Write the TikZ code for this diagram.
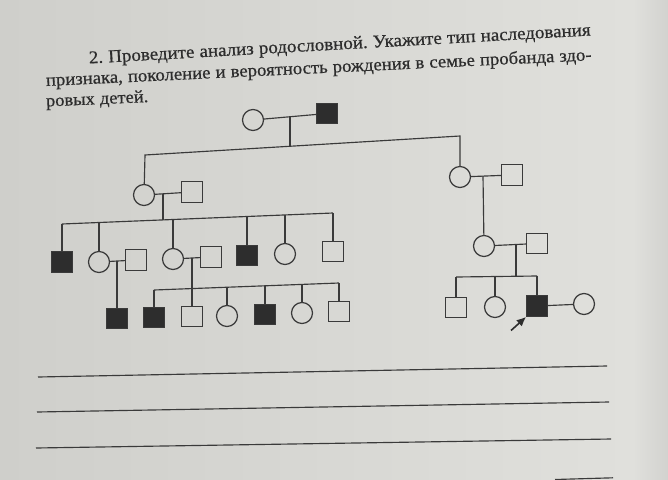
\documentclass[tikz,border=0pt]{standalone}
\usepackage{fontspec}
\setmainfont{Liberation Serif}
\newfontfamily\taskfont{Liberation Serif}[FakeBold=0.6]
\usetikzlibrary{arrows.meta}
\definecolor{paperL}{RGB}{207,207,203}
\definecolor{paperR}{RGB}{224,224,220}
\definecolor{paperE}{RGB}{210,210,207}
\definecolor{ink}{RGB}{58,58,58}
\definecolor{textink}{RGB}{45,45,45}
\definecolor{fillk}{RGB}{45,45,45}
\frenchspacing
\newlength\lenA \newlength\lenB \newlength\lenC
\begin{document}
\settowidth\lenA{\taskfont 2. Проведите анализ родословной. Укажите тип наследования}
\settowidth\lenB{\taskfont признака, поколение и вероятность рождения в семье пробанда здо-}
\settowidth\lenC{\taskfont ровых детей.}
\begin{tikzpicture}[x=1pt,y=-1pt,
  male/.style={draw=ink, line width=1.25pt, minimum size=20.5pt, inner sep=0pt, rectangle},
  female/.style={draw=ink, line width=1.25pt, minimum size=21pt, inner sep=0pt, circle},
  aff/.style={fill=fillk},
  rel/.style={draw=ink, line width=1.15pt},
  rule/.style={draw=ink, line width=1.15pt},
  wordbox/.style={anchor=base west, inner sep=0pt, text=textink}
]
\pgfmathsetmacro\fA{500/\lenA}
\pgfmathsetmacro\fAy{0.95*\fA}
\pgfmathsetmacro\fB{543/\lenB}
\pgfmathsetmacro\fBy{0.95*\fB}
\pgfmathsetmacro\fC{102/\lenC}
\pgfmathsetmacro\fCy{0.95*\fC}
% paper
\shade[left color=paperL, right color=paperR] (0,0) rectangle (633,479);
\shade[left color=paperR, right color=paperE] (633,0) rectangle (668,479);
\useasboundingbox (0,0) rectangle (668,479);

% task text, line 1 (words follow the slanted baseline of the photo)
\coordinate (cur) at (89,63.5);
\foreach \w in {2.,Проведите,анализ,родословной.,Укажите,тип,наследования} {
  \node[wordbox, rotate=3.2] (wd) at (cur) {\scalebox{\fA}[\fAy]{\taskfont\w\ }};
  \coordinate (cur) at (wd.base east);
}
% line 2
\coordinate (cur) at (46,86);
\foreach \w in {{признака,},поколение,и,вероятность,рождения,в,семье,пробанда,здо-} {
  \node[wordbox, rotate=2.7] (wd) at (cur) {\scalebox{\fB}[\fBy]{\taskfont\w\ }};
  \coordinate (cur) at (wd.base east);
}
% line 3
\coordinate (cur) at (46,106.5);
\foreach \w in {ровых,детей.} {
  \node[wordbox, rotate=2.5] (wd) at (cur) {\scalebox{\fC}[\fCy]{\taskfont\w\ }};
  \coordinate (cur) at (wd.base east);
}

% generation I
\node[female] (I1) at (253,120) {};
\node[male,aff] (I2) at (327,113.5) {};
\draw[rel] (I1) -- (I2);
\coordinate (m1) at (290,116.8);
\coordinate (s2L) at (145,155);
\coordinate (s2m) at (290,146.3);
\coordinate (s2R) at (460,136);
\draw[rel] (m1) -- (s2m);

% generation II
\node[female] (II1) at (144,195) {};
\node[male] (II2) at (192,192) {};
\node[female] (II3) at (460,177) {};
\node[male] (II4) at (512,175) {};
\draw[rel] (II1) -- (s2L) -- (s2R) -- (II3);
\draw[rel] (II1) -- (II2);
\draw[rel] (II3) -- (II4);

% generation III (left family)
\coordinate (m2) at (163,193.8);
\coordinate (s3L) at (62,224);
\coordinate (s3a) at (99,222.5);
\coordinate (s3m) at (163,219.9);
\coordinate (s3b) at (173,219.5);
\coordinate (s3c) at (247,216.5);
\coordinate (s3d) at (285,214.9);
\coordinate (s3R) at (333,213);
\draw[rel] (m2) -- (s3m);
\draw[rel] (s3L) -- (s3R);
\node[male,aff] (III1) at (62,262) {};
\node[female] (III2) at (99,262) {};
\node[male] (III3) at (136,260) {};
\node[female] (III4) at (173,259) {};
\node[male] (III5) at (211,257) {};
\node[male,aff] (III6) at (247,255.5) {};
\node[female] (III7) at (285,254) {};
\node[male] (III8) at (333,251.5) {};
\draw[rel] (s3L) -- (III1);
\draw[rel] (s3a) -- (III2);
\draw[rel] (s3b) -- (III4);
\draw[rel] (s3c) -- (III6);
\draw[rel] (s3d) -- (III7);
\draw[rel] (s3R) -- (III8);
\draw[rel] (III2) -- (III3);
\draw[rel] (III4) -- (III5);

% generation IV (left)
\coordinate (m3a) at (117,261.2);
\coordinate (m3b) at (192,258.1);
\node[male,aff] (IV1) at (117,318.5) {};
\draw[rel] (m3a) -- (IV1);
\coordinate (s4L) at (154,290);
\coordinate (s4b) at (227,287.3);
\coordinate (s4c) at (265,285.8);
\coordinate (s4d) at (302,284.4);
\coordinate (s4R) at (339,283);
\draw[rel] (s4L) -- (s4R);
\node[male,aff] (IV2) at (154,317.5) {};
\node[male] (IV3) at (192,316.5) {};
\node[female] (IV4) at (227,316) {};
\node[male,aff] (IV5) at (265,314.5) {};
\node[female] (IV6) at (302,313) {};
\node[male] (IV7) at (339,311.5) {};
\draw[rel] (m3b) -- (IV3);
\draw[rel] (s4L) -- (IV2);
\draw[rel] (s4b) -- (IV4);
\draw[rel] (s4c) -- (IV5);
\draw[rel] (s4d) -- (IV6);
\draw[rel] (s4R) -- (IV7);

% right branch
\coordinate (m4) at (483,176.1);
\node[female] (III9) at (484,246) {};
\node[male] (III10) at (537,243.5) {};
\draw[rel] (m4) -- (III9);
\draw[rel] (III9) -- (III10);
\coordinate (m5) at (516,244.5);
\coordinate (s5L) at (456,277);
\coordinate (s5m) at (516,276.3);
\coordinate (s5a) at (495,276.6);
\coordinate (s5R) at (537,276);
\draw[rel] (m5) -- (s5m);
\draw[rel] (s5L) -- (s5R);
\node[male] (IV8) at (456,307.5) {};
\node[female] (IV9) at (495,307) {};
\node[male,aff] (IV10) at (537,306) {};
\node[female] (IV11) at (584,304) {};
\draw[rel] (s5L) -- (IV8);
\draw[rel] (s5a) -- (IV9);
\draw[rel] (s5R) -- (IV10);
\draw[rel] (IV10) -- (IV11);
% proband arrow
\coordinate (pa) at (511,330.5);
\draw[draw=fillk, fill=fillk, line width=1.6pt, -{Latex[length=9.5pt,width=8.5pt]}] (pa) -- (IV10.south west);

% answer lines
\coordinate (r1a) at (38,377);  \coordinate (r1b) at (607,366);
\coordinate (r2a) at (37,412);  \coordinate (r2b) at (609,402);
\coordinate (r3a) at (36,448);  \coordinate (r3b) at (611,439);
\coordinate (r4a) at (555,479.5); \coordinate (r4b) at (613,477.8);
\draw[rule] (r1a) -- (r1b);
\draw[rule] (r2a) -- (r2b);
\draw[rule] (r3a) -- (r3b);
\draw[rule] (r4a) -- (r4b);
\end{tikzpicture}
\end{document}
